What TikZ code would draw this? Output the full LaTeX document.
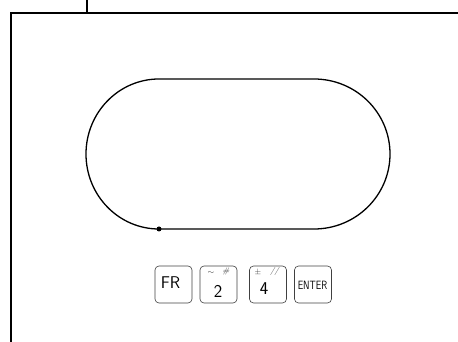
\documentclass[tikz,border=0pt]{standalone}
\usepackage{amsmath}
\usepackage{amssymb}
\usepackage{xcolor}
\usepackage{tikz}

\tikzset{
  key/.style={draw=black!75, line width=0.6pt, rounded corners=4pt, minimum width=37pt, minimum height=37pt, inner sep=0pt},
  keytext/.style={inner sep=0pt},
  small/.style={font=\sffamily\fontsize{8}{8}\selectfont, inner sep=0pt, text=black!75},
  dot/.style={circle, fill=black, inner sep=0pt, minimum size=5pt},
}

\begin{document}
\begin{tikzpicture}[x=1pt, y=1pt]
    \useasboundingbox (0,0) rectangle (458,342);

    % frame
    \coordinate (TL) at (11,329);
    \coordinate (BL) at (11,0);
    \coordinate (TR) at (458,329);
    \coordinate (TT) at (87,342);
    \coordinate (TB) at (87,329);
    \draw[line width=1.6pt] (BL) -- (TL) -- (TR);
    \draw[line width=1.6pt] (TT) -- (TB);

    % track
    \node[dot] (S) at (159,113) {};
    \draw[line width=1.3pt] (S.center) -- (314,113)
        arc[start angle=-90, end angle=90, x radius=76, y radius=75]
        -- (159,263)
        arc[start angle=90, end angle=270, x radius=73, y radius=75];

    % keys
    \node[key] (K1) at (173.5,57.5) {};
    \node[key] (K2) at (218.5,57.5) {};
    \node[key] (K3) at (268,57.5) {};
    \node[key] (K4) at (313,57.5) {};

    \node[keytext, font=\sffamily\fontsize{17}{17}\selectfont] (FR) at (170.5,59) {FR};
    \node[keytext, font=\sffamily\fontsize{18}{18}\selectfont] (N2) at (218,51) {2};
    \node[keytext, font=\sffamily\fontsize{18}{18}\selectfont] (N4) at (264,53) {4};
    \node[keytext, font=\sffamily\fontsize{12}{12}\selectfont, xscale=0.78] (EN) at (312.5,57) {ENTER};

    \node[small] (A2) at (211,69) {$\sim$};
    \node[small] (B2) at (226,70) {\textit{\#}};
    \node[small] (A4) at (258,69) {$\pm$};
    \node[small] (B4) at (275,70) {\textit{//}};
\end{tikzpicture}
\end{document}
